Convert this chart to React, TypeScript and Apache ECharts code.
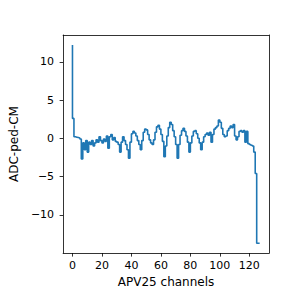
import React, { useEffect, useRef } from "react";
import * as echarts from "echarts";

const channels: number[] = Array.from({ length: 128 }, (_, i) => i);
const adcValues: number[] = [
  12.2, 2.6, 0.2, 0.15, 0.1, 0.05, -0.1, -2.7, -0.6, -1.5,
  -0.3, -1.8, -0.5, -0.8, -0.3, -1.0, -0.6, -0.2, -0.5, 0.2,
  -0.3, -0.6, -0.1, -0.4, 0.3, -1.3, 0.2, 0.5, -0.2, 0.1,
  -0.4, -0.5, -0.8, -1.8, -0.5, 0.2, -0.3, -0.8, -1.5, -2.6,
  -0.5, 0.6, 0.9, 0.7, 0.3, -0.3, -0.8, -1.5, -0.3, 0.8,
  1.2, 1.1, 0.5, -0.2, -0.6, -0.8, -0.2, 0.8, 1.5, 1.7,
  1.2, 0.5, -0.4, -2.4, -1.0, 0.3, 1.4, 2.1, 1.8, 1.0,
  0.2, -0.8, -2.6, -0.8, 0.4, 1.0, 1.3, 0.9, 0.3, -0.5,
  -1.8, -0.6, 0.3, 0.9, 1.0, 0.6, 0.0, -0.6, -1.5, -0.5,
  0.2, 0.5, 0.7, 0.4, 0.8, -0.5, 0.5, 1.2, 1.4, 1.6,
  2.4, 2.1, 1.3, 0.5, 0.2, 0.3, 1.0, 1.3, 1.6, 1.4,
  1.8, 0.3, -0.2, 0.2, 0.9, 1.0, 0.8, 1.0, -0.5, 0.9,
  -0.7, -0.8, -0.9, -1.0, -1.8, -4.6, -13.7, -13.7,
];
const xTicks: number[] = [0, 20, 40, 60, 80, 100, 120];
const yTicks: number[] = [-10, -5, 0, 5, 10];
const xLabel = "APV25 channels";
const yLabel = "ADC-ped-CM";

export default function App() {
  const ref = useRef<HTMLDivElement>(null);
  useEffect(() => {
    if (!ref.current) return;
    document.body.style.margin = "0";
    const chart = echarts.init(ref.current, undefined, { renderer: "svg" });
    const xmin = Math.min(...channels);
    const xmax = Math.max(...channels);
    const ymin = Math.min(...adcValues);
    const ymax = Math.max(...adcValues);
    const xr = xmax - xmin;
    const yr = ymax - ymin;
    const font = "DejaVu Sans";
    const fmt = (v: number) => (v < 0 ? "\u2212" + Math.abs(v) : String(v));
    const frameAxis = {
      show: true,
      onZero: false,
      lineStyle: { color: "#000", width: 0.8 },
    };
    const xRange = { min: xmin - 0.05 * xr, max: xmax + 0.05 * xr };
    const yRange = { min: ymin - 0.05 * yr, max: ymax + 0.05 * yr };
    chart.setOption({
      animation: false,
      backgroundColor: "#fff",
      grid: { left: 48, top: 35, width: 221, height: 221 },
      xAxis: [
        {
          type: "value",
          ...xRange,
          position: "bottom",
          name: xLabel,
          nameLocation: "middle",
          nameGap: 20,
          nameTextStyle: { fontFamily: font, fontSize: 12, color: "#000" },
          splitLine: { show: false },
          axisLine: frameAxis,
          axisTick: {
            show: true,
            length: 3.5,
            customValues: xTicks,
            lineStyle: { color: "#000", width: 0.8 },
          },
          axisLabel: {
            customValues: xTicks,
            margin: 7,
            fontFamily: font,
            fontSize: 11,
            color: "#000",
            formatter: fmt,
          },
        },
        {
          type: "value",
          ...xRange,
          position: "top",
          splitLine: { show: false },
          axisLine: frameAxis,
          axisTick: { show: false },
          axisLabel: { show: false },
        },
      ],
      yAxis: [
        {
          type: "value",
          ...yRange,
          position: "left",
          name: yLabel,
          nameLocation: "middle",
          nameRotate: 90,
          nameGap: 34,
          nameTextStyle: { fontFamily: font, fontSize: 12, color: "#000" },
          splitLine: { show: false },
          axisLine: frameAxis,
          axisTick: {
            show: true,
            length: 3.5,
            customValues: yTicks,
            lineStyle: { color: "#000", width: 0.8 },
          },
          axisLabel: {
            customValues: yTicks,
            margin: 9,
            fontFamily: font,
            fontSize: 11,
            color: "#000",
            formatter: fmt,
          },
        },
        {
          type: "value",
          ...yRange,
          position: "right",
          splitLine: { show: false },
          axisLine: frameAxis,
          axisTick: { show: false },
          axisLabel: { show: false },
        },
      ],
      series: [
        {
          type: "line",
          step: "start",
          showSymbol: false,
          data: channels.map((c, i) => [c, adcValues[i]]),
          lineStyle: { color: "#1f77b4", width: 1.6 },
          itemStyle: { color: "#1f77b4" },
        },
      ],
    });
    return () => chart.dispose();
  }, []);
  return (
    <div
      ref={ref}
      style={{ width: 300, height: 293, position: "fixed", left: 0, top: 0 }}
    />
  );
}
